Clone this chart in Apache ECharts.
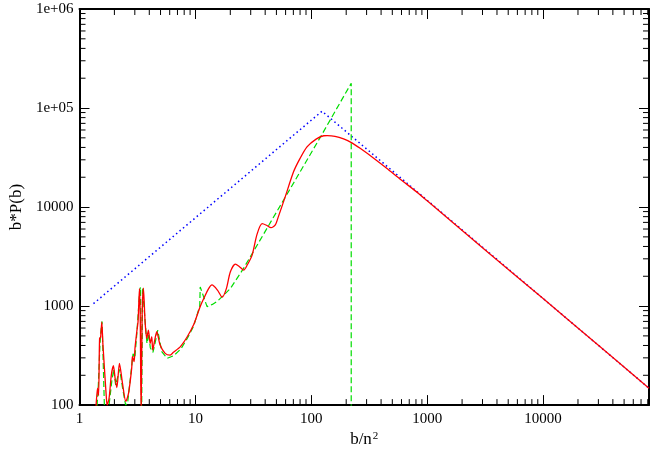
<!DOCTYPE html>
<html>
<head>
<meta charset="utf-8">
<script src="https://cdn.jsdelivr.net/npm/echarts@6/dist/echarts.min.js"></script>
<style>
html,body{margin:0;padding:0;background:#fff;}
#chart{width:671px;height:453px;}
</style>
</head>
<body>
<div id="chart"></div>
<script>
// ---- data (x = b/n^2, y = b*P(b)) ----
const redX = [1.38,1.43,1.46,1.49,1.52,1.557,1.59,1.61,1.665,1.70,1.73,1.80,1.88,1.96,2.03,2.10,2.21,2.35,2.51,2.65,2.82,2.86,2.96,3.01,3.12,3.20,3.29,3.34,3.40,3.47,3.56,3.68,3.80,3.93,4.07,4.20,4.28,4.45,4.64,4.96,5.48,6.05,6.46,7.42,8.5,9.67,11.0,11.8,13.0,13.9,15.5,17.0,18.5,20.0,22.1,24.0,26.1,28.0,30.8,34.0,37.6,41.0,44.9,48.9,52.0,59.0,70.4,80,91.8,110,128,137,160,190,224,264,350,450,585,800,1000,3000,10000,30000,82000];
const redY = [85,148,125,471,485,690,420,333,179,125,100,118,200,250,185,150,264,165,109,132,236,311,275,374,551,700,1500,800,80,800,1520,693,471,572,420,490,360,450,551,404,333,320,341,390,490,650,988,1190,1500,1634,1450,1230,1500,2210,2650,2500,2310,2600,3250,5300,6790,6550,6190,6600,8000,12300,22800,31000,40500,48500,52500,52600,51800,48800,44500,39200,30800,24500,19100,14400,11550,3880,1190,402,148];

const greenX = [1.40,1.45,1.50,1.53,1.565,1.60,1.64,1.70,1.78,1.90,1.97,2.05,2.13,2.22,2.35,2.50,2.60,2.80,2.90,3.00,3.12,3.31,3.36,3.43,3.50,3.56,3.70,3.82,3.95,4.08,4.30,4.50,4.73,5.12,5.70,6.5,7.5,8.5,9.67,10.9,11.0,12.6,14.0,15.5,17.0,20.0,26.0,43.0,58.0,120,221,221];
const greenY = [80,150,400,560,700,280,95,80,90,175,230,160,190,230,150,100,105,230,330,300,520,1450,1550,60,1500,1550,650,420,530,380,340,430,572,347,297,315,370,470,630,1000,1560,988,1040,1120,1244,1500,2400,6560,11900,51000,178000,1];

const blueX = [1.32,123.7,82000];
const blueY = [1059,92900,148];

// ---- axis ticks ----
const xTickLabels = ['1','10','100','1000','10000'];
const yTickLabels = ['100','1000','10000','1e+05','1e+06'];
const xMinor = [2,3,4,5,6,7,8,9,20,30,40,50,60,70,80,90,200,300,400,500,600,700,800,900,2000,3000,4000,5000,6000,7000,8000,9000,20000,30000,40000,50000,60000,70000,80000];
const yMinor = [200,300,400,500,600,700,800,900,2000,3000,4000,5000,6000,7000,8000,9000,20000,30000,40000,50000,60000,70000,80000,90000,200000,300000,400000,500000,600000,700000,800000,900000];

const X_MIN = 1, X_MAX = 82000, Y_MIN = 100, Y_MAX = 1000000;

function zip(a, b) { return a.map((v, i) => [v, b[i]]); }
function decade(v) {
  const l = Math.log10(v), e = Math.round(l);
  return Math.abs(l - e) < 1e-6 ? e : null;
}

const FONT = 'Liberation Serif';
const black = '#000';

const chart = echarts.init(document.getElementById('chart'), null, {renderer: 'canvas'});

function minorRenderer(kind) {
  return function (params, api) {
    const cs = params.coordSys;
    const st = {stroke: black, lineWidth: 1};
    if (kind === 'x') {
      const p = api.coord([api.value(0), Y_MIN]);
      const b = cs.y + cs.height, t = cs.y;
      return {type: 'group', children: [
        {type: 'line', shape: {x1: p[0], y1: b, x2: p[0], y2: b - 6}, style: st},
        {type: 'line', shape: {x1: p[0], y1: t, x2: p[0], y2: t + 6}, style: st}
      ]};
    } else {
      const p = api.coord([X_MIN, api.value(1)]);
      const l = cs.x, r = cs.x + cs.width;
      return {type: 'group', children: [
        {type: 'line', shape: {x1: l, y1: p[1], x2: l + 6, y2: p[1]}, style: st},
        {type: 'line', shape: {x1: r, y1: p[1], x2: r - 6, y2: p[1]}, style: st}
      ]};
    }
  };
}

const axisCommon = {
  axisLine: {show: true, onZero: false, lineStyle: {color: black, width: 2}},
  axisTick: {show: true, inside: true, length: 10, lineStyle: {color: black, width: 1}},
  splitLine: {show: false}
};

const option = {
  backgroundColor: '#fff',
  animation: false,
  grid: {left: 79, right: 22, top: 9, bottom: 46, containLabel: false},
  xAxis: [
    Object.assign({
      type: 'log', logBase: 10, min: X_MIN, max: X_MAX, position: 'bottom',
      axisLabel: {
        show: true, margin: 6, color: black, fontFamily: FONT, fontSize: 15,
        showMaxLabel: false,
        formatter: v => { const e = decade(v); return e === null ? '' : (xTickLabels[e] || ''); }
      },
      name: '{a|b/n}{s|2}', nameLocation: 'middle', nameGap: 25,
      nameTextStyle: {
        color: black, fontFamily: FONT, fontSize: 17,
        rich: {
          a: {fontFamily: FONT, fontSize: 17, color: black, verticalAlign: 'bottom'},
          s: {fontFamily: FONT, fontSize: 11, color: black, verticalAlign: 'top', padding: [0, 0, 0, 1]}
        }
      }
    }, axisCommon),
    Object.assign({
      type: 'log', logBase: 10, min: X_MIN, max: X_MAX, position: 'top',
      axisLabel: {show: false}
    }, axisCommon)
  ],
  yAxis: [
    Object.assign({
      type: 'log', logBase: 10, min: Y_MIN, max: Y_MAX, position: 'left',
      axisLabel: {
        show: true, margin: 6, color: black, fontFamily: FONT, fontSize: 15,
        formatter: v => { const e = decade(v); return e === null ? '' : (yTickLabels[e - 2] || ''); }
      },
      name: 'b*P(b)', nameLocation: 'middle', nameGap: 50, nameRotate: 90,
      nameTextStyle: {color: black, fontFamily: FONT, fontSize: 17}
    }, axisCommon),
    Object.assign({
      type: 'log', logBase: 10, min: Y_MIN, max: Y_MAX, position: 'right',
      axisLabel: {show: false}
    }, axisCommon)
  ],
  series: [
    {
      type: 'custom', name: 'xminor', silent: true, z: 1,
      xAxisIndex: 0, yAxisIndex: 0,
      renderItem: minorRenderer('x'),
      data: xMinor.map(v => [v, Y_MIN])
    },
    {
      type: 'custom', name: 'yminor', silent: true, z: 1,
      xAxisIndex: 0, yAxisIndex: 0,
      renderItem: minorRenderer('y'),
      data: yMinor.map(v => [X_MIN, v])
    },
    {
      type: 'line', name: 'blue', data: zip(blueX, blueY), showSymbol: false, z: 3,
      lineStyle: {color: '#0000ff', width: 1.5, type: [1.5, 3]}, clip: true
    },
    {
      type: 'line', name: 'green', data: zip(greenX, greenY), showSymbol: false, z: 4,
      lineStyle: {color: '#00dd00', width: 1.2, type: [6, 3]}, clip: true
    },
    {
      type: 'line', name: 'red', data: zip(redX, redY), showSymbol: false, z: 5, smooth: 0.25,
      lineStyle: {color: '#ff0000', width: 1.3}, clip: true
    }
  ]
};
chart.setOption(option);
</script>
</body>
</html>
